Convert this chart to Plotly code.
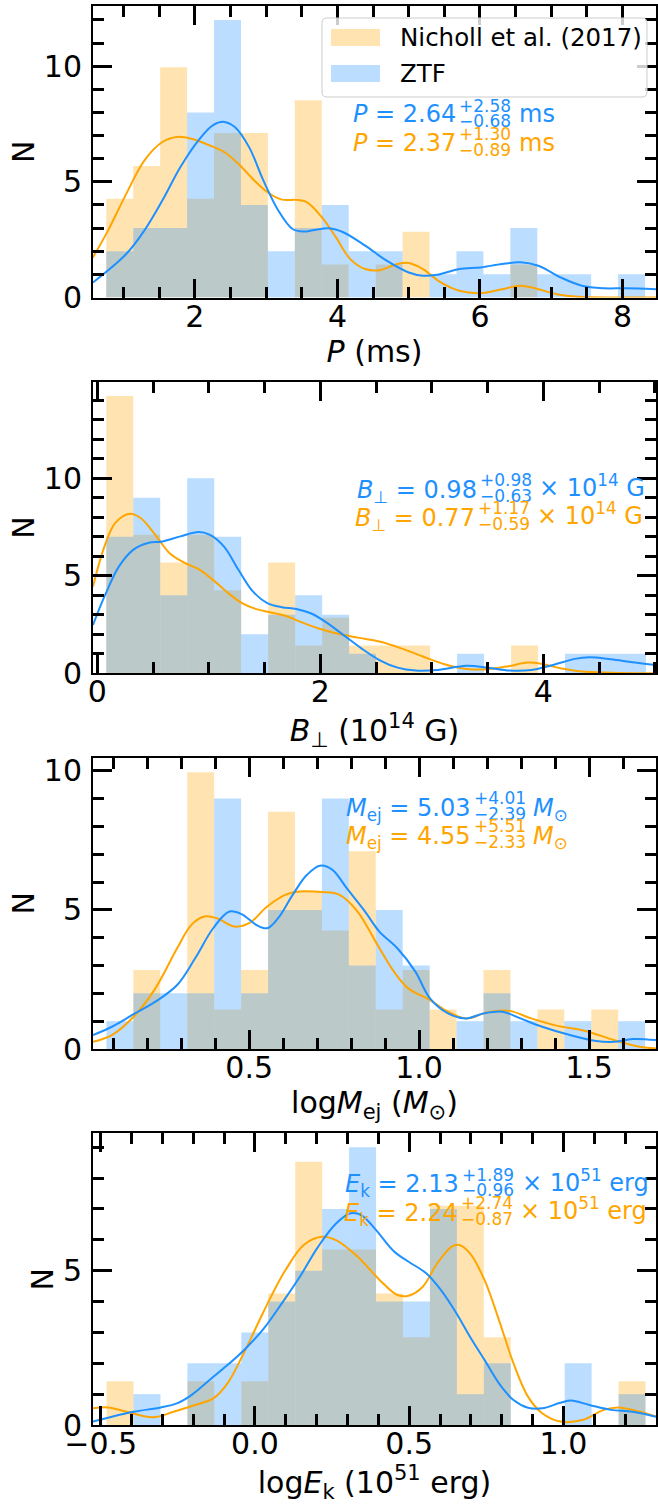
import numpy as np
import plotly.graph_objects as go

W, H = 658, 1512
ML, MR, MT, MB = 93, 2, 6, 87
PW, PH = W - ML - MR, H - MT - MB

def fx(px):
    return (px - ML) / PW

def fy(py):
    return (H - MB - py) / PH

FONT = "DejaVu Sans"
BLUE = "rgb(30,144,255)"
ORANGE = "rgb(255,165,0)"
BLUE_A = "rgba(30,144,255,0.3)"
ORANGE_A = "rgba(255,165,0,0.3)"

N_ZTF = 54
N_NICHOLL = 38
WEIGHT = N_ZTF / N_NICHOLL

# ---------------- data ----------------
# Panel 1: spin period P (ms)
P_bins = (0.756, 8.316)
P_ztf = [2, 3, 3, 8, 12, 4, 2, 3, 4, 2, 2, 0, 1, 2, 1, 3, 1, 1, 0, 1]
P_nic = [3, 4, 7, 3, 5, 5, 0, 6, 1, 0, 1, 2, 0, 0, 0, 1, 0, 0, 0, 0]
P_kde_ztf_x = [0.569, 1.036, 1.29, 1.543, 1.797, 2.05, 2.25, 2.41, 2.56, 2.76, 2.96, 3.17, 3.37, 3.52,
               3.68, 3.88, 4.08, 4.39, 4.69, 5.0, 5.2, 5.4, 5.71, 6.01, 6.31, 6.57, 6.82, 7.13, 7.43,
               7.74, 8.04, 8.47]
P_kde_ztf_y = [0.65, 1.88, 2.89, 4.19, 5.64, 6.79, 7.44, 7.59, 7.37, 6.50, 5.06, 3.76, 2.96, 2.85,
               2.92, 2.99, 2.82, 2.24, 1.59, 1.08, 0.94, 0.98, 1.23, 1.30, 1.45, 1.52, 1.37, 0.87, 0.51,
               0.40, 0.40, 0.36]
P_kde_nic_x = [0.569, 0.78, 1.036, 1.29, 1.543, 1.746, 1.95, 2.20, 2.41, 2.61, 2.81, 3.02, 3.22, 3.42,
               3.57, 3.78, 3.98, 4.18, 4.39, 4.59, 4.84, 5.0, 5.2, 5.45, 5.71, 6.01, 6.31, 6.57, 6.77,
               7.08, 7.38, 7.89, 8.47]
P_kde_nic_y = [1.73, 2.89, 4.48, 5.92, 6.72, 6.94, 6.86, 6.58, 6.29, 5.78, 5.13, 4.55, 4.23, 4.22,
               4.12, 3.47, 2.60, 1.66, 1.23, 1.18, 1.45, 1.49, 1.23, 0.65, 0.29, 0.19, 0.36, 0.51, 0.40,
               0.14, 0.03, 0.0, 0.0]

# Panel 2: magnetic field B (1e14 G)
B_bins = (0.081, 4.92)
B_ztf = [7, 9, 4, 10, 7, 2, 3, 4, 3, 1, 0, 0, 0, 1, 0, 0, 0, 1, 1, 1]
B_nic = [10, 5, 4, 5, 3, 0, 4, 1, 2, 1, 1, 1, 0, 0, 0, 1, 0, 0, 0, 0]
B_kde_ztf_x = [-0.038, 0.065, 0.195, 0.325, 0.455, 0.585, 0.747, 0.909, 1.006, 1.135, 1.266, 1.395,
               1.525, 1.654, 1.784, 1.914, 2.044, 2.206, 2.368, 2.53, 2.693, 2.854, 3.05, 3.31, 3.504,
               3.698, 3.893, 4.088, 4.282, 4.412, 4.606, 4.80, 5.01]
B_kde_ztf_y = [2.48, 3.94, 5.48, 6.34, 6.68, 6.76, 7.02, 7.24, 7.11, 6.51, 5.31, 4.20, 3.60, 3.39,
               3.30, 3.08, 2.65, 1.97, 1.28, 0.68, 0.29, 0.14, 0.17, 0.39, 0.29, 0.14, 0.17, 0.43, 0.74,
               0.82, 0.72, 0.57, 0.43]
B_kde_nic_x = [-0.038, 0.065, 0.162, 0.292, 0.389, 0.519, 0.649, 0.779, 0.909, 1.038, 1.168, 1.298,
               1.427, 1.557, 1.687, 1.817, 1.979, 2.141, 2.336, 2.53, 2.726, 2.92, 3.114, 3.31, 3.504,
               3.698, 3.86, 3.99, 4.152, 4.347, 4.606, 5.01]
B_kde_nic_y = [4.45, 6.51, 7.71, 8.18, 7.96, 7.11, 6.16, 5.68, 5.34, 4.79, 4.14, 3.60, 3.29, 3.12,
               2.95, 2.65, 2.31, 2.05, 1.83, 1.63, 1.28, 0.86, 0.46, 0.22, 0.21, 0.38, 0.55, 0.48,
               0.26, 0.09, 0.03, 0.0]

# Panel 3: log ejecta mass
M_bins = (0.080, 1.665)
M_ztf = [1, 2, 2, 2, 9, 2, 5, 5, 9, 3, 5, 3, 0, 1, 2, 1, 0, 1, 0, 1]
M_nic = [0, 2, 0, 7, 1, 2, 6, 4, 3, 5, 1, 2, 1, 0, 2, 0, 1, 0, 1, 0]
M_kde_ztf_x = [0.0405, 0.096, 0.160, 0.224, 0.288, 0.341, 0.394, 0.442, 0.479, 0.521, 0.553, 0.585,
               0.628, 0.670, 0.708, 0.745, 0.787, 0.841, 0.883, 0.936, 0.989, 1.032, 1.085, 1.138,
               1.191, 1.245, 1.298, 1.362, 1.436, 1.521, 1.574, 1.628, 1.697]
M_kde_ztf_y = [0.50, 0.80, 1.25, 1.70, 2.30, 3.26, 4.34, 4.94, 4.84, 4.46, 4.34, 4.70, 5.54, 6.26,
               6.59, 6.44, 5.78, 4.94, 4.22, 3.62, 2.78, 1.82, 1.28, 1.10, 1.28, 1.34, 1.10, 0.80,
               0.53, 0.29, 0.26, 0.36, 0.32]
M_kde_nic_x = [0.0405, 0.096, 0.160, 0.224, 0.288, 0.330, 0.368, 0.405, 0.457, 0.500, 0.553, 0.606,
               0.649, 0.713, 0.766, 0.819, 0.872, 0.926, 0.968, 1.032, 1.085, 1.138, 1.202, 1.266,
               1.330, 1.404, 1.489, 1.574, 1.649, 1.697]
M_kde_nic_y = [0.26, 0.50, 1.16, 2.18, 3.62, 4.46, 4.76, 4.70, 4.40, 4.52, 5.12, 5.54, 5.66, 5.64,
               5.54, 4.94, 3.86, 2.78, 2.18, 1.76, 1.34, 1.10, 1.32, 1.37, 1.10, 0.84, 0.65, 0.32,
               0.08, 0.02]

# Panel 4: log kinetic energy
E_bins = (-0.481, 1.266)
E_ztf = [0, 1, 0, 2, 2, 3, 4, 5, 7, 9, 4, 4, 7, 1, 2, 0, 0, 2, 0, 1]
E_nic = [1, 0, 0, 1, 0, 1, 3, 6, 4, 4, 3, 2, 5, 5, 2, 0, 0, 0, 0, 1]
E_kde_ztf_x = [-0.525, -0.464, -0.393, -0.305, -0.253, -0.206, -0.147, -0.089, -0.030, 0.029, 0.087,
               0.146, 0.205, 0.263, 0.310, 0.345, 0.392, 0.451, 0.498, 0.556, 0.603, 0.650, 0.697,
               0.744, 0.791, 0.838, 0.885, 0.931, 0.990, 1.025, 1.084, 1.154, 1.224, 1.300]
E_kde_ztf_y = [0.11, 0.27, 0.43, 0.57, 0.70, 0.97, 1.46, 1.94, 2.48, 3.13, 3.94, 4.81, 5.78, 6.53,
               6.86, 6.80, 6.32, 5.62, 5.29, 4.91, 4.37, 3.67, 2.86, 2.11, 1.35, 0.81, 0.56, 0.54,
               0.72, 0.79, 0.65, 0.49, 0.43, 0.27]
E_kde_nic_x = [-0.525, -0.476, -0.417, -0.329, -0.264, -0.194, -0.135, -0.089, -0.042, 0.005, 0.052,
               0.099, 0.158, 0.216, 0.263, 0.333, 0.404, 0.462, 0.498, 0.544, 0.591, 0.638, 0.662,
               0.697, 0.744, 0.791, 0.838, 0.885, 0.931, 0.990, 1.061, 1.131, 1.178, 1.248, 1.300]
E_kde_nic_y = [0.54, 0.57, 0.43, 0.25, 0.43, 0.65, 0.86, 1.35, 2.21, 3.19, 4.16, 5.02, 5.83, 6.10,
               5.99, 5.45, 4.70, 4.21, 4.19, 4.48, 5.24, 5.78, 5.83, 5.56, 4.70, 3.40, 2.00, 0.92,
               0.38, 0.11, 0.16, 0.49, 0.57, 0.43, 0.27]

# axis labels and annotation texts
X_TITLES = ["<i>P</i> (ms)",
            "<i>B</i><sub>⊥</sub> (10<sup>14</sup> G)",
            "log<i>M</i><sub>ej</sub> (<i>M</i><sub>⊙</sub>)",
            "log<i>E</i><sub>k</sub> (10<sup>51</sup> erg)"]
Y_TITLE = "N"
LEGEND_LABELS = ["Nicholl et al. (2017)", "ZTF"]

STAT_MAIN = [["<i>P</i> = 2.64", "<i>P</i> = 2.37"],
             ["<i>B</i><sub>⊥</sub> = 0.98", "<i>B</i><sub>⊥</sub> = 0.77"],
             ["<i>M</i><sub>ej</sub> = 5.03", "<i>M</i><sub>ej</sub> = 4.55"],
             ["<i>E</i><sub>k</sub> = 2.13", "<i>E</i><sub>k</sub> = 2.24"]]
STAT_UP = [["+2.58", "+1.30"], ["+0.98", "+1.17"], ["+4.01", "+5.51"], ["+1.89", "+2.74"]]
STAT_DN = [["−0.68", "−0.89"], ["−0.63", "−0.59"], ["−2.39", "−2.33"], ["−0.96", "−0.87"]]
STAT_UNIT = [["ms", "ms"],
             ["× 10<sup>14</sup> G", "× 10<sup>14</sup> G"],
             ["<i>M</i><sub>⊙</sub>", "<i>M</i><sub>⊙</sub>"],
             ["× 10<sup>51</sup> erg", "× 10<sup>51</sup> erg"]]

# ---------------- layout geometry (pixels) ----------------
panels = [
    dict(bins=P_bins, ztf=P_ztf, nic=P_nic, kz=(P_kde_ztf_x, P_kde_ztf_y), kn=(P_kde_nic_x, P_kde_nic_y),
         xr=[0.57, 8.47], yr=[0, 12.6], dtick=2, tick0=0, minor=0.5, fmt="", ytop=6, ybot=297.5,
         ydt=5, ytick_max=10, tstand=2),
    dict(bins=B_bins, ztf=B_ztf, nic=B_nic, kz=(B_kde_ztf_x, B_kde_ztf_y), kn=(B_kde_nic_x, B_kde_nic_y),
         xr=[-0.038, 5.01], yr=[0, 14.95], dtick=2, tick0=0, minor=0.5, fmt="", ytop=381.7, ybot=673.3,
         ydt=5, ytick_max=10, tstand=2),
    dict(bins=M_bins, ztf=M_ztf, nic=M_nic, kz=(M_kde_ztf_x, M_kde_ztf_y), kn=(M_kde_nic_x, M_kde_nic_y),
         xr=[0.0405, 1.697], yr=[0, 10.47], dtick=0.5, tick0=0, minor=0.1, fmt=".1f", ytop=757.7, ybot=1049,
         ydt=5, ytick_max=10, tstand=2),
    dict(bins=E_bins, ztf=E_ztf, nic=E_nic, kz=(E_kde_ztf_x, E_kde_ztf_y), kn=(E_kde_nic_x, E_kde_nic_y),
         xr=[-0.525, 1.30], yr=[0, 9.45], dtick=0.5, tick0=0, minor=0.1, fmt=".1f", ytop=1133.3, ybot=1425,
         ydt=5, ytick_max=5, tstand=6),
]

# annotation pixel anchors: (x where scripts start, x of unit, baseline y) for [ztf, nicholl]
STAT_POS = [
    [(458, 518, 122.7), (458, 518, 151.0)],
    [(479, 538, 497.3), (477, 536, 525.0)],
    [(473, 532, 815.0), (473, 532, 843.3)],
    [(461, 521, 1191.7), (460, 519, 1220.0)],
]

fig = go.Figure()
layout = dict(width=W, height=H, margin=dict(l=ML, r=MR, t=MT, b=MB),
              paper_bgcolor="white", plot_bgcolor="white", barmode="overlay", showlegend=False,
              font=dict(family=FONT, size=30, color="black"))

annotations = []
shapes = []

for i, p in enumerate(panels):
    k = "" if i == 0 else str(i + 1)
    xa, ya = "x" + k, "y" + k
    lo, hi = p["bins"]
    n = len(p["ztf"])
    edges = np.linspace(lo, hi, n + 1)
    cen = 0.5 * (edges[:-1] + edges[1:])
    bw = (hi - lo) / n
    fig.add_trace(go.Bar(x=cen, y=np.array(p["nic"]) * WEIGHT, width=bw, xaxis=xa, yaxis=ya,
                         marker=dict(color=ORANGE_A, line=dict(width=0)), name=LEGEND_LABELS[0]))
    fig.add_trace(go.Bar(x=cen, y=p["ztf"], width=bw, xaxis=xa, yaxis=ya,
                         marker=dict(color=BLUE_A, line=dict(width=0)), name=LEGEND_LABELS[1]))
    fig.add_trace(go.Scatter(x=p["kn"][0], y=p["kn"][1], mode="lines", xaxis=xa, yaxis=ya,
                             line=dict(color=ORANGE, width=2, shape="spline", smoothing=1.0)))
    fig.add_trace(go.Scatter(x=p["kz"][0], y=p["kz"][1], mode="lines", xaxis=xa, yaxis=ya,
                             line=dict(color=BLUE, width=2, shape="spline", smoothing=1.0)))

    common = dict(ticks="inside", ticklen=19, tickwidth=2.5, tickcolor="black", mirror="allticks",
                  showline=True, linewidth=2, linecolor="black", showgrid=False, zeroline=False,
                  tickfont=dict(family=FONT, size=30, color="black"), automargin=False)
    layout["xaxis" + k] = dict(common, domain=[0, 1], anchor=ya, range=p["xr"], dtick=p["dtick"],
                               tick0=p["tick0"], tickformat=p["fmt"], ticklabelstandoff=-9,
                               minor=dict(ticks="inside", ticklen=11, tickwidth=2.5, tickcolor="black",
                                          dtick=p["minor"], tick0=0, showgrid=False),
                               title=dict(text=X_TITLES[i], font=dict(family=FONT, size=30),
                                          standoff=p["tstand"]))
    layout["yaxis" + k] = dict(common, domain=[fy(p["ybot"]), fy(p["ytop"])], anchor=xa, range=p["yr"],
                               tickvals=list(range(0, p["ytick_max"] + 1, p["ydt"])), ticklabelstandoff=3,
                               minor=dict(ticks="inside", ticklen=11, tickwidth=2.5, tickcolor="black",
                                          dtick=1, tick0=0, showgrid=False),
                               title=dict(text=Y_TITLE, font=dict(family=FONT, size=30), standoff=0))

    # statistics annotations (main text + stacked super/subscripts + unit)
    for j, col in enumerate([BLUE, ORANGE]):
        xs, xu, base = STAT_POS[i][j]
        main_c = base - 0.35 * 24 + (2.5 if "<sub>" in STAT_MAIN[i][j] else 0)
        common_a = dict(xref="paper", yref="paper", showarrow=False, borderpad=0, yanchor="middle")
        annotations.append(dict(common_a, x=fx(xs - 1), y=fy(main_c), xanchor="right",
                                text=STAT_MAIN[i][j], font=dict(family=FONT, size=24, color=col)))
        annotations.append(dict(common_a, x=fx(xs), y=fy(base - 17), xanchor="left",
                                text=STAT_UP[i][j], font=dict(family=FONT, size=17, color=col)))
        annotations.append(dict(common_a, x=fx(xs), y=fy(base - 1.5), xanchor="left",
                                text=STAT_DN[i][j], font=dict(family=FONT, size=17, color=col)))
        unit_c = base - 0.35 * 24 + (-2.5 if "<sup>" in STAT_UNIT[i][j] else 0) \
            + (2.5 if "<sub>" in STAT_UNIT[i][j] else 0)
        annotations.append(dict(common_a, x=fx(xu), y=fy(unit_c), xanchor="left",
                                text=STAT_UNIT[i][j], font=dict(family=FONT, size=24, color=col)))

# legend (panel 1), drawn as a rounded semi-transparent box
x0, x1, y0, y1, r = 322, 647, 18, 97, 5
def P(px, py):
    return f"{fx(px):.5f},{fy(py):.5f}"
path = (f"M {P(x0 + r, y0)} L {P(x1 - r, y0)} Q {P(x1, y0)} {P(x1, y0 + r)} "
        f"L {P(x1, y1 - r)} Q {P(x1, y1)} {P(x1 - r, y1)} L {P(x0 + r, y1)} "
        f"Q {P(x0, y1)} {P(x0, y1 - r)} L {P(x0, y0 + r)} Q {P(x0, y0)} {P(x0 + r, y0)} Z")
shapes.append(dict(type="path", path=path, xref="paper", yref="paper", layer="above",
                   fillcolor="rgba(255,255,255,0.8)", line=dict(color="rgb(204,204,204)", width=1)))
for lab, col, yc in [(LEGEND_LABELS[0], ORANGE_A, 37.5), (LEGEND_LABELS[1], BLUE_A, 73.5)]:
    shapes.append(dict(type="rect", xref="paper", yref="paper", layer="above",
                       x0=fx(331), x1=fx(380), y0=fy(yc + 8.5), y1=fy(yc - 8.5),
                       fillcolor=col, line=dict(width=0)))
    annotations.append(dict(xref="paper", yref="paper", x=fx(399), y=fy(yc), xanchor="left",
                            yanchor="middle", showarrow=False, borderpad=0, text=lab,
                            font=dict(family=FONT, size=24.5, color="black")))

layout["annotations"] = annotations
layout["shapes"] = shapes
fig.update_layout(**layout)
fig.write_html("out.html", config={"displayModeBar": False},
               post_script="document.body.style.margin='0px';document.body.style.overflow='hidden';")
